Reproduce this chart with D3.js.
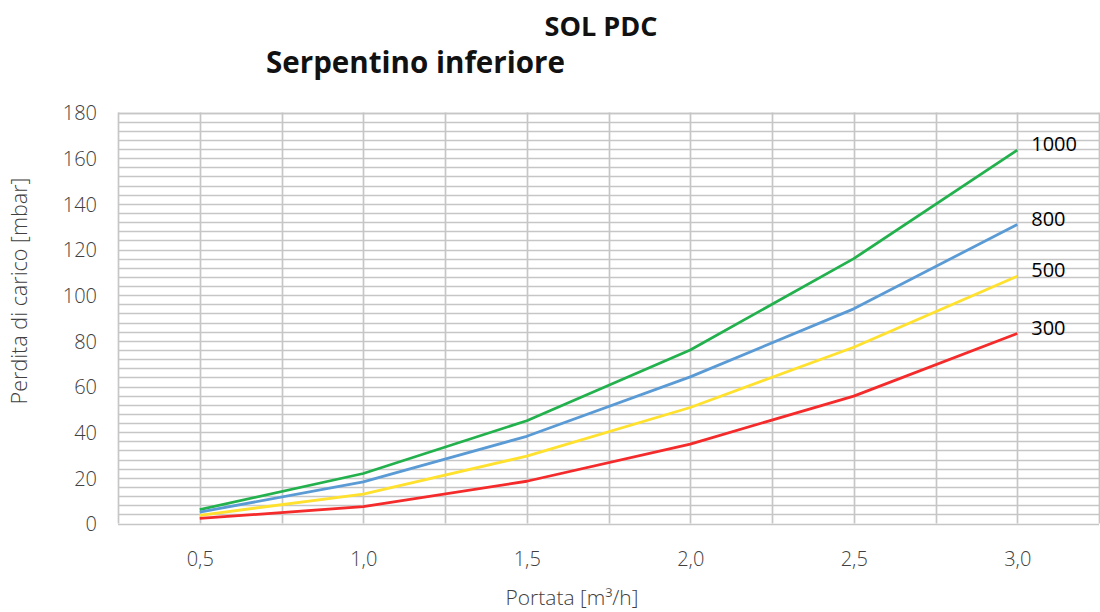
<!DOCTYPE html>
<html>
<head>
<meta charset="utf-8">
<script src="https://cdn.jsdelivr.net/npm/d3@7"></script>
<style>
  html, body { margin: 0; padding: 0; background: #fff; }
  svg { display: block; }
</style>
</head>
<body>
<svg id="chart" width="1100" height="612"></svg>
<script>
// ---- Data ----
const flows = [0.5, 1.0, 1.5, 2.0, 2.5, 3.0];           // Portata [m³/h]
const series1000 = [6.1, 21.9, 45.0, 76.0, 116.0, 163.5];
const series800  = [5.0, 18.2, 38.2, 64.2, 94.0, 131.0];
const series500  = [3.6, 12.9, 29.5, 50.8, 77.2, 108.3];
const series300  = [2.2, 7.4, 18.5, 34.8, 55.8, 83.2];
const seriesNames = ["1000", "800", "500", "300"];
const seriesColors = ["#23b14d", "#5b9bd5", "#ffe12e", "#f52a2a"];
const xTickValues = [0.5, 1.0, 1.5, 2.0, 2.5, 3.0];
const yTickValues = [0, 20, 40, 60, 80, 100, 120, 140, 160, 180];
const titleMain = "SOL PDC";
const titleSub = "Serpentino inferiore";
const xTitle = "Portata [m³/h]";
const yTitle = "Perdita di carico [mbar]";

const seriesValues = [series1000, series800, series500, series300];

// ---- Layout ----
const svg = d3.select("#chart");
const plot = { left: 118, right: 1099, top: 112.5, bottom: 523.5 };

const x = d3.scaleLinear().domain([0.25, 3.25]).range([plot.left, plot.right]);
const y = d3.scaleLinear().domain([0, 180]).range([plot.bottom, plot.top]);

const gridColor = "#c6c6c6";
const labelFont = "'Open Sans', 'Noto Sans', sans-serif";
const fmt = d => d3.format(".1f")(d).replace(".", ",");

function fitText(sel, width) {
  const w = sel.node().getComputedTextLength();
  const fs = parseFloat(sel.attr("font-size"));
  sel.attr("font-size", fs * width / w);
}

// Horizontal grid (every 4 units)
const hGrid = d3.range(0, 180.001, 4).concat([180]);
svg.append("g").selectAll("line").data(hGrid).join("line")
  .attr("x1", plot.left).attr("x2", plot.right)
  .attr("y1", d => Math.round(y(d)) + 0.5).attr("y2", d => Math.round(y(d)) + 0.5)
  .attr("stroke", gridColor).attr("stroke-width", 1.7);

// Vertical grid (every 0.25)
const vGrid = d3.range(0.25, 3.2501, 0.25);
svg.append("g").selectAll("line").data(vGrid).join("line")
  .attr("y1", plot.top).attr("y2", plot.bottom)
  .attr("x1", d => Math.round(x(d)) + 0.5).attr("x2", d => Math.round(x(d)) + 0.5)
  .attr("stroke", gridColor).attr("stroke-width", 1.7);

// Axes (labels only)
const yAxis = d3.axisLeft(y).tickValues(yTickValues).tickSize(0).tickPadding(0);
const gy = svg.append("g").attr("transform", `translate(${plot.left - 21},0)`).call(yAxis);
gy.select(".domain").remove();
gy.selectAll("text")
  .attr("font-family", labelFont).attr("font-weight", 300)
  .attr("font-size", 20).attr("fill", "#404040").attr("dy", "0.36em");

const xAxis = d3.axisBottom(x).tickValues(xTickValues).tickFormat(fmt).tickSize(0).tickPadding(0);
const gx = svg.append("g").attr("transform", `translate(0,${plot.bottom + 28})`).call(xAxis);
gx.select(".domain").remove();
gx.selectAll("text")
  .attr("font-family", labelFont).attr("font-weight", 300)
  .attr("font-size", 20).attr("fill", "#404040").attr("dy", "0.71em");

// Lines
const line = d3.line().x((d, i) => x(flows[i])).y(d => y(d)).curve(d3.curveLinear);
svg.append("g").selectAll("path").data(seriesValues).join("path")
  .attr("d", d => line(d))
  .attr("fill", "none")
  .attr("stroke", (d, i) => seriesColors[i])
  .attr("stroke-width", 2.8)
  .attr("stroke-linejoin", "round");

// End labels
svg.append("g").selectAll("text").data(seriesValues).join("text")
  .attr("x", d => x(flows[flows.length - 1]) + 14)
  .attr("y", d => y(d[d.length - 1]) - 6)
  .attr("dy", "0.36em")
  .attr("font-family", labelFont)
  .attr("font-weight", 400)
  .attr("font-size", 20)
  .attr("fill", "#000")
  .text((d, i) => seriesNames[i]);

// Axis titles
const xt = svg.append("text")
  .attr("x", 572).attr("y", 605)
  .attr("text-anchor", "middle")
  .attr("font-family", labelFont).attr("font-weight", 300)
  .attr("font-size", 20).attr("fill", "#404040")
  .text(xTitle);
fitText(xt, 133);

const yt = svg.append("text")
  .attr("transform", "translate(27,291) rotate(-90)")
  .attr("text-anchor", "middle")
  .attr("font-family", labelFont).attr("font-weight", 300)
  .attr("font-size", 20).attr("fill", "#404040")
  .text(yTitle);
fitText(yt, 227);

// Titles
const t1 = svg.append("text")
  .attr("x", 601).attr("y", 36)
  .attr("text-anchor", "middle")
  .attr("font-family", "'Open Sans', sans-serif")
  .attr("font-weight", 700)
  .attr("font-size", 25).attr("fill", "#111")
  .text(titleMain);
fitText(t1, 113);

const t2 = svg.append("text")
  .attr("x", 266).attr("y", 73)
  .attr("font-family", "'Open Sans', sans-serif")
  .attr("font-weight", 700)
  .attr("font-size", 26).attr("fill", "#111")
  .text(titleSub);
fitText(t2, 299);
</script>
</body>
</html>
